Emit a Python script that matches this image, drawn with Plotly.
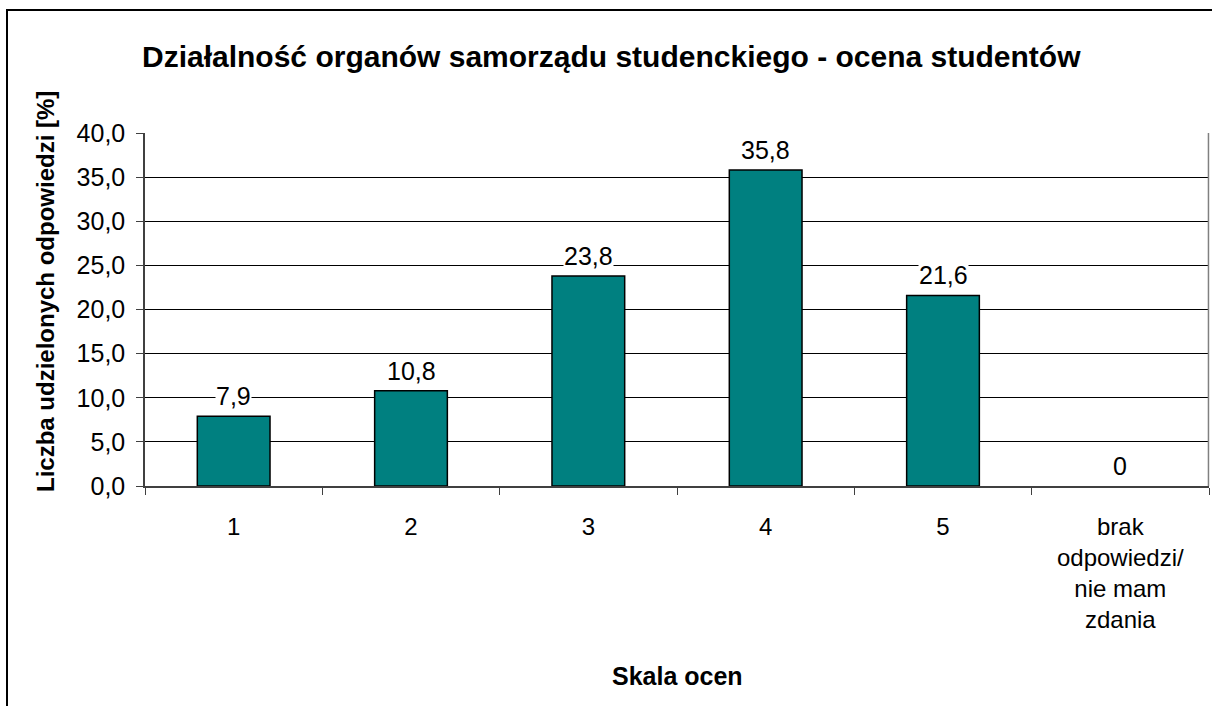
import plotly.graph_objects as go

categories = ["1", "2", "3", "4", "5", "brak<br>odpowiedzi/<br>nie mam<br>zdania"]
values = [7.9, 10.8, 23.8, 35.8, 21.6, 0]
value_labels = ["7,9", "10,8", "23,8", "35,8", "21,6", "0"]

title_text = "Działalność organów samorządu studenckiego - ocena studentów"
y_title = "Liczba udzielonych odpowiedzi [%]"
x_title = "Skala ocen"

W, H = 1212, 706
L, R, T, B = 145, 1209, 133, 486


def px(x):
    return (x - L) / (R - L)


def py(y):
    return (B - y) / (B - T)


FONT = "Liberation Sans, Arial, sans-serif"

fig = go.Figure(
    go.Bar(
        x=categories,
        y=values,
        marker=dict(
            color="#008080",
            line=dict(color="#000000", width=[1.5 if v > 0 else 0 for v in values]),
        ),
        hoverinfo="skip",
    )
)

annotations = []
for i, (v, t) in enumerate(zip(values, value_labels)):
    annotations.append(
        dict(
            x=i, y=v, xref="x", yref="y", text=t, showarrow=False,
            yshift=20, bgcolor="white", borderpad=0,
            font=dict(size=25, color="black", family=FONT),
        )
    )

annotations += [
    dict(x=px(611), y=py(57), xref="paper", yref="paper", text="<b>" + title_text + "</b>",
         showarrow=False, font=dict(size=30, color="black", family=FONT),
         xanchor="center", yanchor="middle"),
    dict(x=px(45), y=py(292), xref="paper", yref="paper", text="<b>" + y_title + "</b>",
         showarrow=False, textangle=-90, font=dict(size=24, color="black", family=FONT),
         xanchor="center", yanchor="middle"),
    dict(x=px(677), y=py(676), xref="paper", yref="paper", text="<b>" + x_title + "</b>",
         showarrow=False, font=dict(size=25, color="black", family=FONT),
         xanchor="center", yanchor="middle"),
]

shapes = [
    # outer chart frame
    dict(type="rect", xref="paper", yref="paper",
         x0=px(7), y0=py(740), x1=px(1240), y1=py(10),
         line=dict(color="black", width=2), fillcolor="rgba(0,0,0,0)", layer="below"),
    # right plot border
    dict(type="line", xref="paper", yref="paper",
         x0=0.9995, x1=0.9995, y0=0, y1=1, line=dict(color="#808080", width=1.5)),
]

fig.update_layout(
    width=W, height=H,
    margin=dict(l=L, r=W - R, t=T, b=H - B),
    paper_bgcolor="white", plot_bgcolor="white",
    separators=", ",
    bargap=0.59,
    showlegend=False,
    font=dict(family=FONT, color="black", size=24),
    annotations=annotations,
    shapes=shapes,
)

fig.update_yaxes(
    range=[0, 40], dtick=5, tickformat=".1f",
    showgrid=True, gridcolor="#000000", gridwidth=1,
    zeroline=False,
    showline=True, linecolor="#404040", linewidth=1.5,
    ticks="outside", ticklen=7, tickcolor="#404040",
    tickfont=dict(size=25, family=FONT, color="black"),
    ticklabelstandoff=6,
)

fig.update_xaxes(
    showline=True, linecolor="#404040", linewidth=1.5,
    ticks="outside", tickson="boundaries", ticklen=7, tickcolor="#404040",
    tickfont=dict(size=24, family=FONT, color="black"),
    tickangle=0,
    ticklabelstandoff=18,
)

fig.write_html(
    "out.html",
    config={"displayModeBar": False},
    post_script="document.body.style.margin='0';document.body.style.overflow='hidden';",
)
